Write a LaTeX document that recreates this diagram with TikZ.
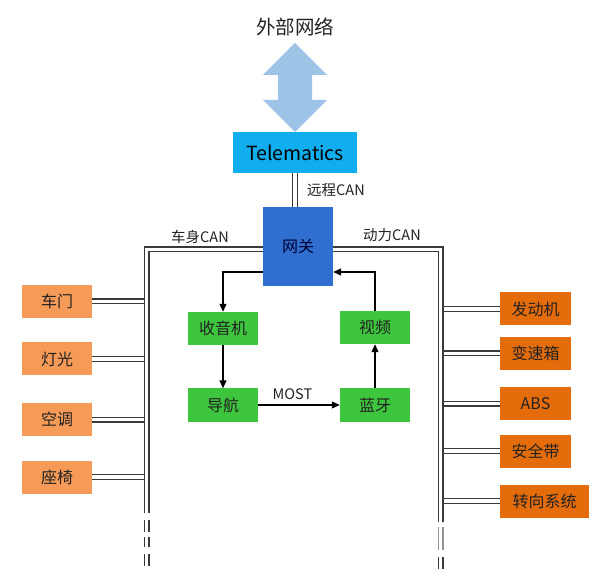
\documentclass[tikz,border=0pt]{standalone}
\usepackage{fontspec}
\setmainfont{Noto Sans CJK SC}
\usetikzlibrary{arrows.meta,calc}
\definecolor{arrowblue}{HTML}{9DC3E6}
\definecolor{telecol}{HTML}{10AEEE}
\definecolor{gwcol}{HTML}{2F6FCF}
\definecolor{greencol}{HTML}{3DC63D}
\definecolor{lorange}{HTML}{F59B57}
\definecolor{dorange}{HTML}{E46C0A}
\definecolor{txt}{HTML}{222222}
\definecolor{buscol}{HTML}{3A3A3A}
\tikzset{
  box/.style={rectangle, inner sep=0pt, text=txt, font=\fontsize{16}{16}\selectfont},
  greenbox/.style={box, fill=greencol, minimum width=70pt, minimum height=33pt},
  lbox/.style={box, fill=lorange, minimum width=70pt, minimum height=33pt},
  rbox/.style={box, fill=dorange, minimum width=71pt, minimum height=33pt},
  bus/.style={draw=buscol, double=white, double distance=3.8pt, line width=1.1pt},
  flow/.style={draw=black, line width=1.1pt, -{Triangle[length=8pt,width=7pt]}},
  lbl/.style={text=txt, font=\fontsize{14.5}{14.5}\selectfont, inner sep=0pt},
}
\begin{document}
\begin{tikzpicture}[x=1pt,y=-1pt]
\useasboundingbox (0,0) rectangle (600,577);

% title and double arrow
\node[text=txt, font=\fontsize{19.5}{19.5}\selectfont, inner sep=0pt] (ext) at (295,27) {外部网络};
\fill[arrowblue] (295,43) -- (327,75) -- (312,75) -- (312,100) -- (327,100) -- (295,132)
   -- (263,100) -- (278,100) -- (278,75) -- (263,75) -- cycle;

% main nodes
\node[box, fill=telecol, minimum width=124pt, minimum height=41pt, font=\fontsize{19.5}{19.5}\selectfont, text=black] (tele) at (295,152.5) {Telematics};
\node[box, fill=gwcol, minimum width=70pt, minimum height=79pt, text=black!80!blue] (gw) at (298,246.5) {网关};

\node[greenbox] (radio) at (223,328.5) {收音机};
\node[greenbox] (nav) at (223,405) {导航};
\node[greenbox] (bt) at (375,405) {蓝牙};
\node[greenbox] (video) at (375,327.5) {视频};

\node[lbox] (door) at (57,301.5) {车门};
\node[lbox] (light) at (57,359) {灯光};
\node[lbox] (ac) at (57,419.5) {空调};
\node[lbox] (seat) at (57,477) {座椅};

\node[rbox] (eng) at (535.5,309) {发动机};
\node[rbox] (gear) at (535.5,353.5) {变速箱};
\node[rbox] (abs) at (535.5,403.5) {ABS};
\node[rbox] (belt) at (535.5,451) {安全带};
\node[rbox, minimum width=89pt] (steer) at (544.5,501) {转向系统};

% bus coordinates
\coordinate (lbusTop) at (146.5,249.5);
\coordinate (lbusEnd) at (146.5,513);
\coordinate (rbusTop) at (440.5,249.5);
\coordinate (rbusEnd) at (440.5,522);

% stubs (drawn first, bus on top)
\foreach \n in {door,light,ac,seat}{
  \draw[bus] (\n.east) -- (\n.east -| lbusTop);
}
\foreach \n in {eng,gear,abs,belt,steer}{
  \draw[bus] (\n.west) -- (\n.west -| rbusTop);
}

% remote CAN
\draw[bus] (tele.south) -- (tele.south |- gw.north);
% body CAN and power CAN buses
\draw[bus] ([yshift=-3pt]gw.west) -- (lbusTop) -- (lbusEnd);
\draw[bus] ([yshift=-3pt]gw.east) -- (rbusTop) -- (rbusEnd);
\coordinate (ld1a) at (146.5,520); \coordinate (ld1b) at (146.5,532);
\coordinate (ld2a) at (146.5,537); \coordinate (ld2b) at (146.5,547);
\coordinate (ld3a) at (146.5,554); \coordinate (ld3b) at (146.5,566);
\draw[bus] (ld1a) -- (ld1b);
\draw[bus] (ld2a) -- (ld2b);
\draw[bus] (ld3a) -- (ld3b);
\coordinate (rd1a) at (440.5,527); \coordinate (rd1b) at (440.5,550);
\coordinate (rd2a) at (440.5,557); \coordinate (rd2b) at (440.5,569);
\draw[bus, draw=buscol!55] (rd1a) -- (rd1b);
\draw[bus] (rd2a) -- (rd2b);

% labels
\node[lbl, anchor=west] (lremote) at (307,190) {远程CAN};
\node[lbl] (lbody) at (200,237) {车身CAN};
\node[lbl] (lpower) at (392,235) {动力CAN};

% MOST loop
\draw[flow] ([yshift=-25.5pt]gw.west) -| (radio.north);
\draw[flow] (radio.south) -- (nav.north);
\draw[flow] (nav.east) -- node[lbl, above=5pt, pos=0.42] (lmost) {MOST} (bt.west);
\draw[flow] (bt.north) -- (video.south);
\draw[flow] (video.north) |- ([yshift=-25.5pt]gw.east);
\end{tikzpicture}
\end{document}
